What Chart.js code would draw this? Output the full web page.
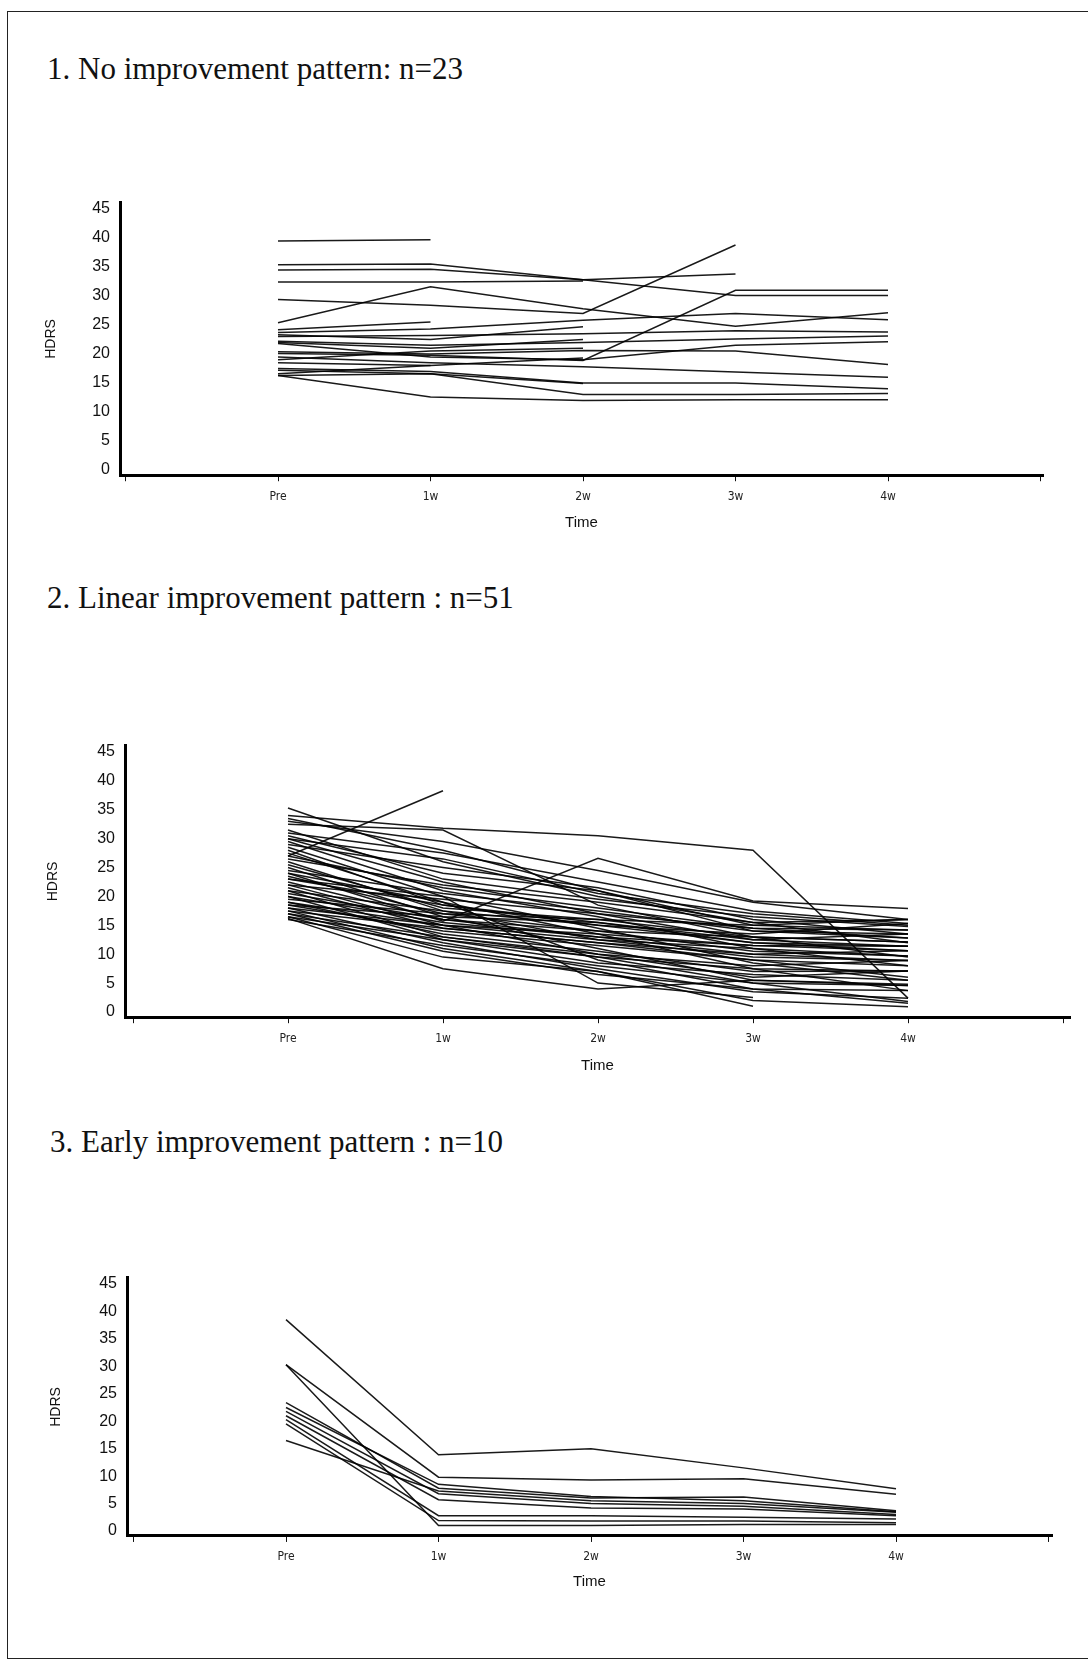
<!DOCTYPE html>
<html>
<head>
<meta charset="utf-8">
<script src="https://cdn.jsdelivr.net/npm/chart.js@4.4.0/dist/chart.umd.min.js"></script>
<style>
  body { margin: 0; background: #fff; }
  .page { position: relative; width: 1088px; height: 1661px; overflow: hidden; background: #fff; }
  .frame { position: absolute; left: 7px; top: 11px; width: 1100px; height: 1646px;
           border-left: 1.5px solid #222; border-top: 1.5px solid #222; border-bottom: 1.5px solid #222; }
  .title { position: absolute; font-family: "Liberation Serif", "Times New Roman", serif;
           font-size: 31px; line-height: 1; color: #111; white-space: nowrap; }
  canvas { position: absolute; left: 0; }
</style>
</head>
<body>
<div class="page">
  <div class="frame"></div>
  <div class="title" style="left:47px; top:53px;">1. No improvement pattern: n=23</div>
  <div class="title" style="left:47px; top:582px;">2. Linear improvement pattern : n=51</div>
  <div class="title" style="left:50px; top:1126px;">3. Early improvement pattern : n=10</div>
  <canvas id="c1" width="1088" height="400" style="top:150px"></canvas>
  <canvas id="c2" width="1088" height="400" style="top:700px"></canvas>
  <canvas id="c3" width="1088" height="400" style="top:1230px"></canvas>
</div>
<script>
// x positions: 0 and 6 are the empty ends of the time axis
const timeLabels = ["", "Pre", "1w", "2w", "3w", "4w", ""];
const hdrsTicks = [0, 5, 10, 15, 20, 25, 30, 35, 40, 45];

// each row = one patient: Pre, 1w, 2w, 3w, 4w (null = no visit)
const noImprovement = [
  [39.5, 39.7, null, null, null],
  [35.4, 35.5, 32.8, 30.1, 30.1],
  [34.5, 34.6, 32.8, 33.8, null],
  [32.4, 32.4, 32.6, null, null],
  [29.4, 28.4, 27.0, 38.8, null],
  [25.4, 31.6, 27.8, 24.8, 27.1],
  [24.2, 25.5, null, null, null],
  [23.7, 24.3, 25.8, 27.0, 25.9],
  [23.3, 22.5, 24.7, null, null],
  [23.0, 23.2, 23.5, 24.0, 23.8],
  [22.2, 21.5, 22.0, 22.6, 23.1],
  [21.8, 19.5, 19.0, 21.5, 22.1],
  [20.4, 20.0, 20.6, 20.5, 18.2],
  [20.1, 19.8, 18.9, 31.0, 31.0],
  [19.5, 18.5, 17.8, 16.9, 16.0],
  [18.5, 18.0, null, null, null],
  [17.5, 17.0, 15.0, 15.0, 14.0],
  [17.2, 16.6, 14.9, null, null],
  [16.6, 18.0, 19.3, null, null],
  [16.3, 12.6, 12.0, 12.1, 12.1],
  [16.3, 16.6, 13.0, 13.0, 13.2],
  [22.0, 21.0, 22.5, null, null],
  [19.0, 20.5, 21.0, null, null],
];

const linearImprovement = [
  [27.0, 38.3, null, null, null],
  [34.0, 31.8, 30.5, 28.0, 2.4],
  [35.3, 26.0, 20.0, 15.5, 12.0],
  [32.5, 31.5, 18.5, 13.0, 9.5],
  [33.0, 29.5, 24.5, 19.0, 16.0],
  [24.0, 15.7, 26.6, 19.2, 17.9],
  [31.0, 27.5, 22.5, 17.5, 15.3],
  [30.5, 24.0, 21.0, 15.0, 14.2],
  [30.0, 22.5, 17.0, 12.5, 11.4],
  [29.5, 21.0, 16.5, 11.0, 8.0],
  [29.0, 25.0, 21.5, 16.0, 13.5],
  [28.5, 20.0, 14.5, 8.5, 5.5],
  [28.0, 18.5, 15.5, 12.0, 10.6],
  [27.5, 19.0, 13.5, 7.5, 3.7],
  [26.5, 22.0, 19.0, 15.5, 16.0],
  [26.0, 17.5, 12.5, 9.5, 8.9],
  [25.5, 18.0, 16.0, 13.0, 12.1],
  [25.0, 16.5, 11.0, 5.5, 4.6],
  [24.5, 20.5, 17.5, 14.0, 13.5],
  [23.5, 17.0, 14.0, 10.5, 9.7],
  [23.0, 18.5, 15.0, 13.5, 15.3],
  [22.5, 16.0, 13.0, 11.5, 10.6],
  [22.0, 15.0, 10.0, 6.0, 7.1],
  [22.0, 19.5, 17.0, 14.5, 14.2],
  [21.5, 14.5, 12.0, 9.0, 8.0],
  [21.0, 17.5, 15.0, 12.0, 11.4],
  [21.0, 13.0, 9.5, 5.0, 1.8],
  [20.5, 16.0, 14.0, 13.0, 12.1],
  [20.0, 15.5, 13.0, 10.0, 8.9],
  [20.0, 12.5, 8.5, 6.5, 5.5],
  [19.5, 17.0, 16.0, 15.0, 16.0],
  [19.0, 15.0, 12.5, 11.0, 9.7],
  [19.0, 13.5, 10.5, 7.0, 7.1],
  [18.5, 16.5, 15.5, 12.5, 13.5],
  [18.5, 14.0, 11.5, 9.0, 6.0],
  [18.0, 12.0, 7.5, 3.5, 2.4],
  [18.0, 15.0, 13.5, 11.5, 11.4],
  [17.5, 11.0, 7.0, 2.0, 0.9],
  [17.5, 14.5, 12.0, 10.0, 10.6],
  [17.0, 13.0, 10.0, 8.0, 8.9],
  [17.0, 10.5, 6.5, 4.0, 3.7],
  [16.5, 12.5, 9.5, 7.5, 7.1],
  [16.5, 9.5, 7.0, 1.0, null],
  [16.2, 7.5, 4.0, 5.5, 4.8],
  [16.0, 11.5, 8.0, 5.0, 4.6],
  [31.5, 23.0, 19.5, 16.5, 14.8],
  [33.5, 28.0, 21.0, 14.0, 12.8],
  [24.0, 19.0, 9.0, 4.0, 1.5],
  [27.0, 21.5, 18.0, 14.5, 12.8],
  [23.0, 20.0, 5.0, 2.5, null],
  [30.0, 26.5, 20.5, 17.0, 15.0],
];

const earlyImprovement = [
  [38.5, 13.9, 15.0, 11.5, 7.7],
  [30.3, 9.8, 9.3, 9.5, 6.7],
  [30.3, 1.0, 1.0, 1.2, 1.2],
  [23.4, 7.8, 6.0, 6.2, 3.7],
  [22.5, 8.5, 6.3, 5.5, 3.5],
  [21.8, 6.8, 5.0, 4.5, 3.0],
  [21.0, 5.7, 4.2, 4.0, 2.8],
  [20.3, 2.8, 2.8, 2.5, 2.2],
  [19.5, 1.9, 1.8, 1.8, 1.5],
  [16.5, 7.3, 5.5, 5.0, 3.4],
];

const yMin = -0.9;
const yMax = 46.1;

// where each panel sits on the page (pixels)
const panels = [
  { id: "c1", rows: noImprovement, canvasTop: 150, axisX: 120, axisEnd: 1043, xPre: 278, x4w: 888, y45: 209, y0: 470, hdrsX: 51, timeY: 523 },
  { id: "c2", rows: linearImprovement, canvasTop: 700, axisX: 125, axisEnd: 1070, xPre: 288, x4w: 908, y45: 752, y0: 1012, hdrsX: 53, timeY: 1066 },
  { id: "c3", rows: earlyImprovement, canvasTop: 1230, axisX: 127, axisEnd: 1052, xPre: 286, x4w: 896, y45: 1284, y0: 1531, hdrsX: 56, timeY: 1582 },
];

const makeChart = (p) => {
  const canvas = document.getElementById(p.id);
  const H = canvas.height;
  const unit = (p.y0 - p.y45) / 45;
  const top = p.y45 - (yMax - 45) * unit;
  const bottom = p.y0 - yMin * unit;
  const step = (p.x4w - p.xPre) / 4;
  const xMin = 1 - (p.xPre - p.axisX) / step;
  const xMax = 5 + (p.axisEnd - p.x4w) / step;
  const xAxisHeight = p.canvasTop + H - bottom;

  const datasets = p.rows.map((row) => ({
    data: row
      .map((v, i) => (v === null ? null : { x: i + 1, y: v }))
      .filter((d) => d !== null),
    borderColor: "rgba(0,0,0,0.9)",
    borderWidth: 1.5,
    pointRadius: 0,
    tension: 0,
    fill: false,
  }));

  new Chart(canvas, {
    type: "line",
    data: { datasets },
    options: {
      responsive: false,
      animation: false,
      events: [],
      layout: { padding: { top: top - p.canvasTop, right: 1088 - p.axisEnd, left: 0, bottom: 0 } },
      plugins: { legend: { display: false }, tooltip: { enabled: false } },
      scales: {
        x: {
          type: "linear",
          min: xMin,
          max: xMax,
          afterBuildTicks: (scale) => {
            scale.ticks = timeLabels.map((_, i) => ({ value: i }));
          },
          afterFit: (scale) => {
            scale.height = xAxisHeight;
          },
          ticks: {
            autoSkip: false,
            maxRotation: 0,
            padding: 8,
            color: "#222",
            font: { family: "'Liberation Sans Narrow', 'DejaVu Sans Condensed', 'DejaVu Sans Mono'", size: 12 },
            callback: (v) => timeLabels[v],
          },
          grid: { display: true, drawOnChartArea: false, drawTicks: true, tickLength: 6, tickWidth: 1, tickColor: "#111" },
          border: { display: true, color: "#000", width: 3 },
          title: {
            display: true,
            text: "Time",
            color: "#111",
            font: { family: "'Liberation Sans', Arial, sans-serif", size: 15 },
            padding: { top: 0, bottom: p.canvasTop + H - p.timeY - 9 },
          },
        },
        y: {
          min: yMin,
          max: yMax,
          afterBuildTicks: (scale) => {
            scale.ticks = hdrsTicks.map((v) => ({ value: v }));
          },
          afterFit: (scale) => {
            scale.width = p.axisX;
          },
          ticks: {
            padding: 10,
            color: "#111",
            font: { family: "'Liberation Sans', Arial, sans-serif", size: 16 },
          },
          grid: { display: true, drawOnChartArea: false, drawTicks: false },
          border: { display: true, color: "#000", width: 3 },
          title: {
            display: true,
            text: "HDRS",
            color: "#111",
            font: { family: "'Liberation Sans', Arial, sans-serif", size: 14 },
            padding: { top: p.hdrsX - 8.4, bottom: 0 },
          },
        },
      },
    },
  });
};

panels.forEach((p) => makeChart(p));
</script>
</body>
</html>
